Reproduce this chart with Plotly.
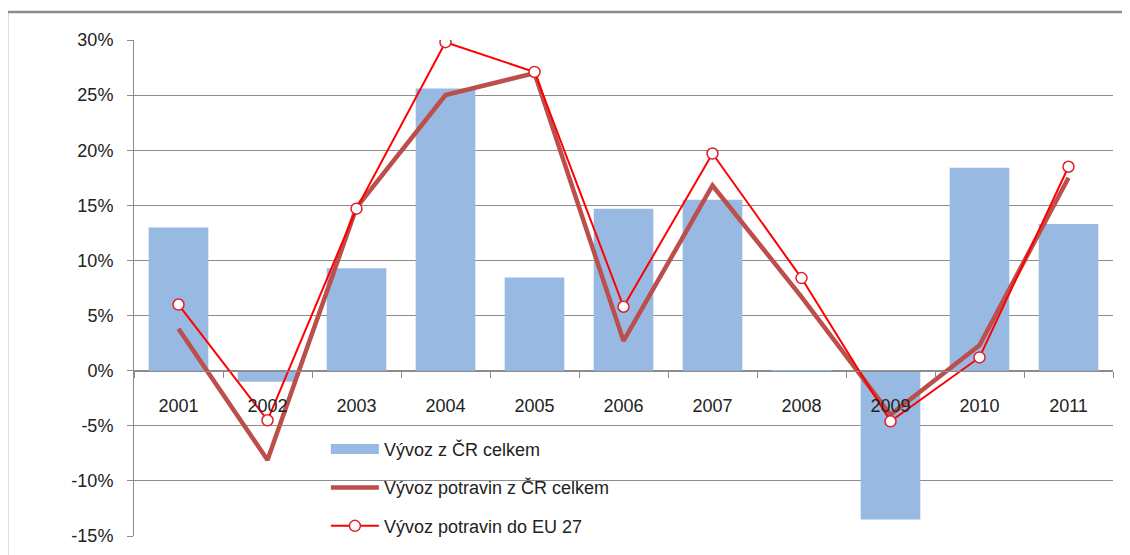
import plotly.graph_objects as go

years = ['2001', '2002', '2003', '2004', '2005', '2006',
         '2007', '2008', '2009', '2010', '2011']

# growth rates in %
vyvoz_cr = [13.0, -1.0, 9.3, 25.6, 8.45, 14.7, 15.5, -0.1, -13.5, 18.4, 13.3]
vyvoz_potravin_cr = [3.8, -8.1, 14.8, 25.0, 27.0, 2.7, 16.8, 6.7, -4.0, 2.3, 17.5]
vyvoz_potravin_eu = [6.0, -4.5, 14.7, 29.8, 27.1, 5.8, 19.7, 8.4, -4.6, 1.2, 18.5]

y_ticks = [-0.15, -0.10, -0.05, 0.0, 0.05, 0.10, 0.15, 0.20, 0.25, 0.30]
y_tick_text = ['-15%', '-10%', '-5%', '0%', '5%', '10%', '15%', '20%', '25%', '30%']

names = ['Vývoz z ČR celkem', 'Vývoz potravin z ČR celkem', 'Vývoz potravin do EU 27']

font_name = 'Liberation Sans, Arial, sans-serif'
bar_color = '#97B9E2'

fig = go.Figure()

fig.add_trace(go.Bar(
    x=years, y=[v / 100 for v in vyvoz_cr], name=names[0],
    marker=dict(color=bar_color, line=dict(width=0)),
    showlegend=False))

# legend entry for the bars, drawn as a wide block like the original
fig.add_trace(go.Scatter(
    x=[None], y=[None], name=names[0], mode='lines',
    line=dict(color=bar_color, width=12), legendgroup='a'))

fig.add_trace(go.Scatter(
    x=years, y=[v / 100 for v in vyvoz_potravin_cr], name=names[1],
    mode='lines', line=dict(color='#BC4E4B', width=4.5),
    legendgroup='b'))

fig.add_trace(go.Scatter(
    x=years, y=[v / 100 for v in vyvoz_potravin_eu], name=names[2],
    mode='lines+markers', line=dict(color='#FF0000', width=2),
    marker=dict(symbol='circle', size=11, color='white',
                line=dict(color='#E0202A', width=1.5)),
    legendgroup='c'))

# outer chart border (left and top visible, rest runs off the image)
fig.add_shape(type='rect', xref='paper', yref='paper',
              x0=-0.1297, x1=1.05, y0=-0.08, y1=1.0565,
              line=dict(color='#8A8A8A', width=2.5), layer='below')

fig.update_layout(
    width=1130, height=555,
    margin=dict(l=126, r=25, t=32, b=27),
    paper_bgcolor='white', plot_bgcolor='white',
    font=dict(family=font_name, size=18, color='#222222'),
    bargap=0.33,
    showlegend=True,
    legend=dict(x=0.196, y=0.212, xanchor='left', yanchor='top',
                bgcolor='rgba(0,0,0,0)', traceorder='grouped',
                tracegroupgap=12, itemwidth=48,
                font=dict(family=font_name, size=18, color='#222222')),
    xaxis=dict(
        type='category', anchor='free', position=(15 / 45),
        range=[-0.5, len(years) - 0.5],
        showline=True, linecolor='#8C8C8C', linewidth=1,
        ticks='outside', tickson='boundaries', ticklen=6,
        tickcolor='#8C8C8C', showgrid=False,
        tickfont=dict(family=font_name, size=18, color='#222222'),
        ticklabelstandoff=19),
    yaxis=dict(
        range=[-0.15, 0.30], tickvals=y_ticks, ticktext=y_tick_text,
        showgrid=True, gridcolor='#8C8C8C', gridwidth=1,
        showline=True, linecolor='#8C8C8C', linewidth=1,
        ticks='outside', ticklen=6, tickcolor='#8C8C8C',
        zeroline=False, ticklabelstandoff=10,
        tickfont=dict(family=font_name, size=18, color='#222222')),
)

fig.write_html("out.html")
